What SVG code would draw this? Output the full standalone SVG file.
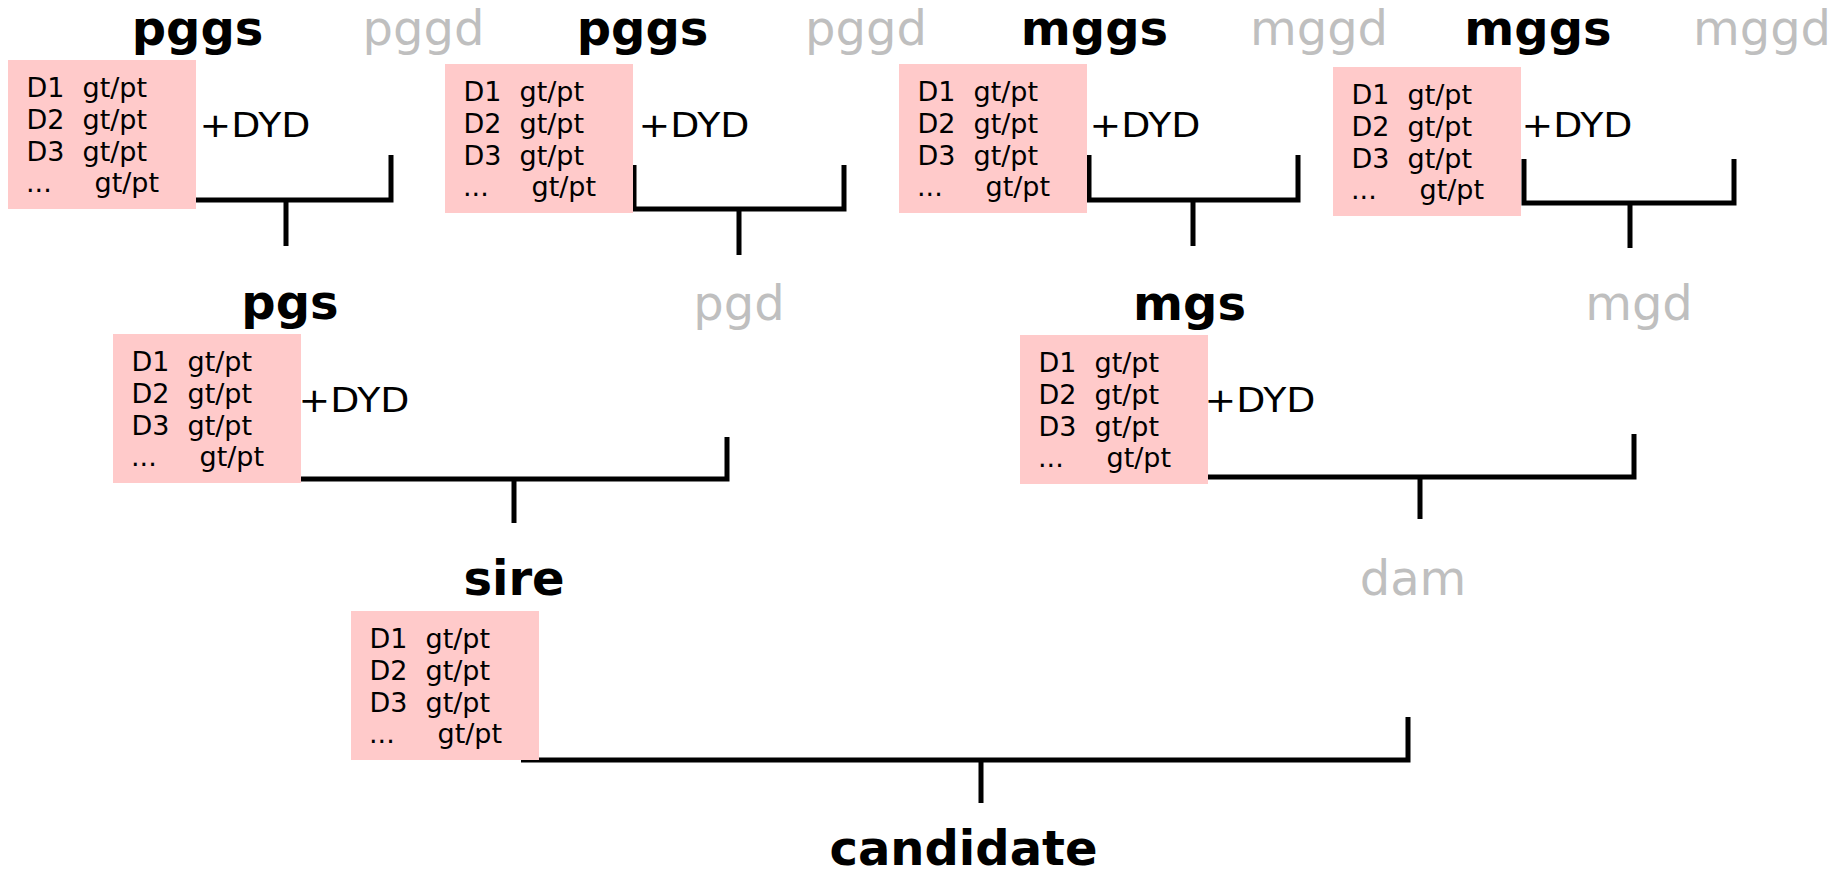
<svg xmlns="http://www.w3.org/2000/svg" xmlns:xlink="http://www.w3.org/1999/xlink" width="1846" height="876" viewBox="0 0 1846 876">
  <style>
    text { font-family: "DejaVu Sans", Verdana, sans-serif; }
    .box { fill: #ffcaca; }
    .rec { font-size: 27px; fill: #000; }
    .dyd { font-size: 34px; fill: #000; }
    .known { font-size: 48px; font-weight: bold; fill: #000; text-anchor: middle; }
    .unknown { font-size: 48px; fill: #bfbfbf; text-anchor: middle; }
    .link { fill: none; stroke: #000; stroke-width: 5; stroke-linejoin: miter; }
  </style>
  <defs>
    <!-- record panel: four trait lines of genotype/phenotype -->
    <g id="panel">
      <rect class="box" x="0" y="0" width="188" height="149"/>
      <text class="rec" x="18.5" y="37">D1<tspan x="74.5">gt/pt</tspan></text>
      <text class="rec" x="18.5" y="69">D2<tspan x="74.5">gt/pt</tspan></text>
      <text class="rec" x="18.5" y="101">D3<tspan x="74.5">gt/pt</tspan></text>
      <text class="rec" x="18" y="132">...<tspan x="86.5">gt/pt</tspan></text>
    </g>
  </defs>
  <rect width="1846" height="876" fill="#fff"/>

  <!-- pedigree brackets -->
  <g id="connectors">
    <path class="link" d="M196 200 H391 V155 M286 200 V246"/>
    <path class="link" d="M634 165 V209 H844 V165 M739 209 V255"/>
    <path class="link" d="M1089 155 V200 H1298 V155 M1193 200 V246"/>
    <path class="link" d="M1524 159 V203 H1734 V159 M1630 203 V248"/>
    <path class="link" d="M301 479 H727 V437 M514 479 V523"/>
    <path class="link" d="M1208 477 H1634 V434 M1420 477 V519"/>
    <path class="link" d="M521 760 H1408 V717 M981 760 V803"/>
  </g>

  <!-- great-grandparents -->
  <g id="pggs1">
    <text class="known" x="197.5" y="45">pggs</text>
    <use xlink:href="#panel" x="8" y="60"/>
    <text class="dyd" x="199.5" y="137" textLength="111" lengthAdjust="spacingAndGlyphs">+DYD</text>
  </g>
  <g id="pggd1"><text class="unknown" x="423.5" y="45">pggd</text></g>
  <g id="pggs2">
    <text class="known" x="642.5" y="45">pggs</text>
    <use xlink:href="#panel" x="445" y="64"/>
    <text class="dyd" x="638.5" y="137" textLength="111" lengthAdjust="spacingAndGlyphs">+DYD</text>
  </g>
  <g id="pggd2"><text class="unknown" x="866" y="45">pggd</text></g>
  <g id="mggs1">
    <text class="known" x="1094.5" y="45">mggs</text>
    <use xlink:href="#panel" x="899" y="64"/>
    <text class="dyd" x="1089.5" y="137" textLength="111" lengthAdjust="spacingAndGlyphs">+DYD</text>
  </g>
  <g id="mggd1"><text class="unknown" x="1319" y="45">mggd</text></g>
  <g id="mggs2">
    <text class="known" x="1538" y="45">mggs</text>
    <use xlink:href="#panel" x="1333" y="67"/>
    <text class="dyd" x="1521.5" y="137" textLength="111" lengthAdjust="spacingAndGlyphs">+DYD</text>
  </g>
  <g id="mggd2"><text class="unknown" x="1762" y="45">mggd</text></g>

  <!-- grandparents -->
  <g id="pgs">
    <text class="known" x="290" y="319">pgs</text>
    <use xlink:href="#panel" x="113" y="334"/>
    <text class="dyd" x="298.5" y="412" textLength="111" lengthAdjust="spacingAndGlyphs">+DYD</text>
  </g>
  <g id="pgd"><text class="unknown" x="739" y="320">pgd</text></g>
  <g id="mgs">
    <text class="known" x="1189.5" y="320">mgs</text>
    <use xlink:href="#panel" x="1020" y="335"/>
    <text class="dyd" x="1204.5" y="412" textLength="111" lengthAdjust="spacingAndGlyphs">+DYD</text>
  </g>
  <g id="mgd"><text class="unknown" x="1639" y="320">mgd</text></g>

  <!-- parents -->
  <g id="sire">
    <text class="known" x="514" y="595">sire</text>
    <use xlink:href="#panel" x="351" y="611"/>
  </g>
  <g id="dam"><text class="unknown" x="1413" y="595">dam</text></g>

  <!-- progeny -->
  <g id="candidate"><text class="known" x="963.5" y="865">candidate</text></g>
</svg>
